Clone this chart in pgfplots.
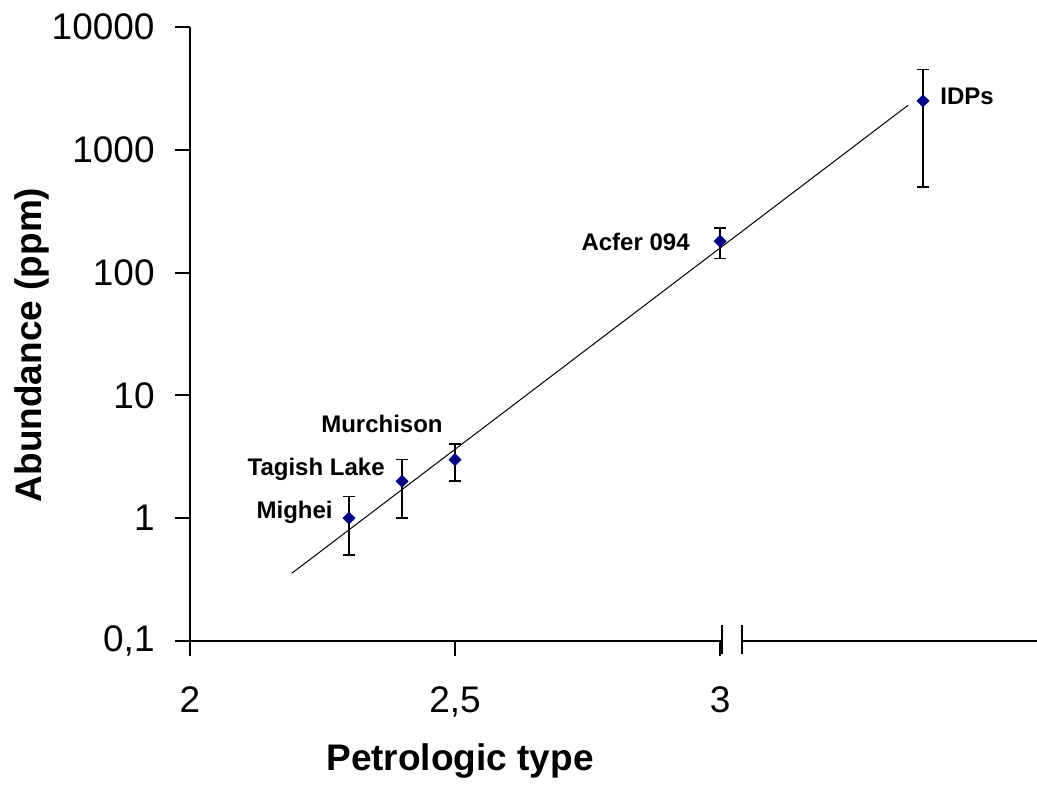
\documentclass[border=0pt]{standalone}
\usepackage{fontspec}
\setmainfont{Liberation Sans}
\usepackage{pgfplots}
\pgfplotsset{compat=1.18}
\definecolor{navy}{RGB}{0,0,128}
\begin{document}
\begin{tikzpicture}
\begin{axis}[
    at={(0,0)}, anchor=south west,
    scale only axis,
    width=423.5pt, height=307pt,
    xmin=2, xmax=3.598,
    ymode=log, ymin=0.1, ymax=10000,
    axis lines=left,
    axis line style={-, line width=1pt},
    tick align=outside,
    major tick length=7.5pt,
    tick style={line width=1pt, black},
    xtick={2,2.5,3}, xticklabels={2,{2,5},3},
    ytick={0.1,1,10,100,1000,10000},
    yticklabels={{0,1},1,10,100,1000,10000},
    xminorticks=false, yminorticks=false,
    ticklabel style={font=\fontsize{18.5}{20}\selectfont, inner sep=0pt},
    xticklabel style={anchor=north, yshift=-15pt},
    yticklabel style={anchor=east, xshift=-10pt},
    clip=false,
]

% fitted line
\addplot[black, line width=0.5pt] coordinates {(2.192,0.356) (3.355,2310)};

% error bars (value - err, value + err)
\addplot[black, line width=0.8pt, mark=-, mark size=3pt,
         mark options={line width=0.8pt}, unbounded coords=jump] coordinates {
    (2.3,0.5) (2.3,1.5) (2.3,nan)
    (2.4,1) (2.4,3) (2.4,nan)
    (2.5,2) (2.5,4) (2.5,nan)
    (3.0,130) (3.0,230) (3.0,nan)
    (3.383,500) (3.383,4500)
};

% data points
\addplot[only marks, mark=square*, mark size=2.1pt, color=navy,
         mark options={rotate=45, fill=navy, draw=navy}] coordinates {
    (2.3,1) (2.4,2) (2.5,3) (3.0,180) (3.383,2500)
};

% point labels
\node[anchor=base east, inner sep=0pt, font=\bfseries\fontsize{12}{13}\selectfont]
    at ([xshift=-8pt]axis cs:2.3,1) {Mighei};
\node[anchor=base east, inner sep=0pt, font=\bfseries\fontsize{12}{13}\selectfont]
    at ([xshift=-8.5pt,yshift=3pt]axis cs:2.4,2) {Tagish Lake};
\node[anchor=base east, inner sep=0pt, font=\bfseries\fontsize{12}{13}\selectfont]
    at ([xshift=-6pt,yshift=13.5pt]axis cs:2.5,3) {Murchison};
\node[anchor=base east, inner sep=0pt, font=\bfseries\fontsize{12}{13}\selectfont]
    at ([xshift=-15pt,yshift=-4.5pt]axis cs:3.0,180) {Acfer 094};
\node[anchor=base west, inner sep=0pt, font=\bfseries\fontsize{12}{13}\selectfont]
    at ([xshift=8.5pt,yshift=-2pt]axis cs:3.383,2500) {IDPs};

% axis break
\fill[white] ([yshift=-2pt]axis cs:3.0055,0.1) rectangle ([yshift=2pt]axis cs:3.0395,0.1);
\draw[line width=1pt] ([yshift=8pt]axis cs:3.004,0.1) -- ([yshift=-6.5pt]axis cs:3.004,0.1);
\draw[line width=1pt] ([yshift=8pt]axis cs:3.0415,0.1) -- ([yshift=-6.5pt]axis cs:3.0415,0.1);

% axis titles
\node[rotate=90, anchor=base, inner sep=0pt, font=\bfseries\fontsize{18.5}{20}\selectfont]
    at ([xshift=-74pt,yshift=-5.5pt]axis description cs:0,0.5) {Abundance (ppm)};
\node[anchor=base, inner sep=0pt, font=\bfseries\fontsize{18.5}{20}\selectfont]
    at ([yshift=-64.5pt]axis description cs:0.3188,0) {Petrologic type};
\end{axis}
\pgfresetboundingbox
\path (-95pt,-73pt) rectangle (423.5pt,320.5pt);
\end{tikzpicture}
\end{document}
